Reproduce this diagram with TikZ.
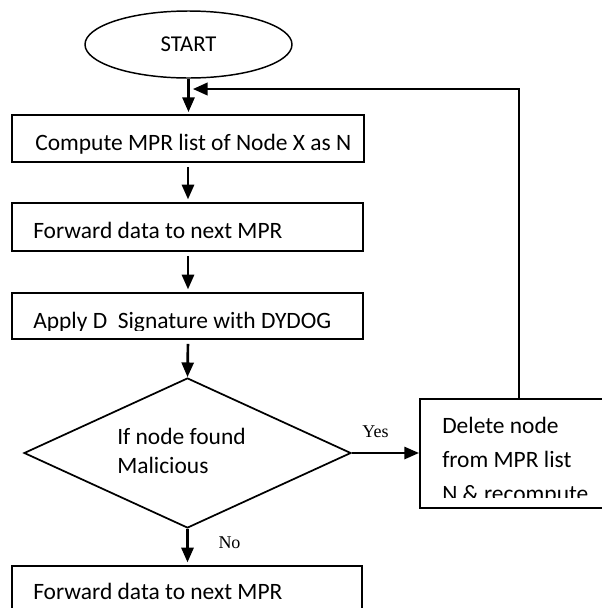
\documentclass[tikz,border=0pt]{standalone}
\usepackage{fontspec}
\setmainfont{Carlito}
\newfontfamily\serifl{Liberation Serif}
\usetikzlibrary{shapes.geometric,arrows.meta}
\begin{document}
\begin{tikzpicture}[x=0.75pt,y=-0.75pt,
  boxn/.style={draw, rectangle, inner sep=0pt, line width=1.4pt},
  lbl/.style={anchor=base west, inner sep=0pt, font=\fontsize{17.6}{21}\selectfont},
  yn/.style={anchor=base, inner sep=0pt, font=\serifl\fontsize{13.5}{16}\selectfont},
  arr/.style={-{Triangle[length=11pt,width=9pt]}, line width=2pt},
  looparr/.style={-{Triangle[length=11pt,width=9.5pt]}, line width=1.5pt}]
\clip (0,0) rectangle (602,608);
% shapes
\node[draw, ellipse, minimum width=155.25pt, minimum height=50.25pt, inner sep=0pt, line width=1.1pt,
      font=\fontsize{17}{20}\selectfont] (start) at (188.5,44.5) {START};
\node[boxn, minimum width=264pt, minimum height=35.25pt] (b1) at (188,138.5) {};
\node[boxn, minimum width=263.25pt, minimum height=36pt] (b2) at (187.5,227) {};
\node[boxn, minimum width=263.25pt, minimum height=34.5pt] (b3) at (187.5,316) {};
\node[draw, diamond, minimum width=245.25pt, minimum height=112.5pt, inner sep=0pt, line width=1.3pt] (dec) at (187.5,453) {};
\node[boxn, minimum width=144pt, minimum height=81.75pt] (del) at (516,453.5) {};
\node[boxn, minimum width=262.5pt, minimum height=40.5pt] (b4) at (187,593) {};
% texts
\node[lbl] (t1) at (35,150) {Compute MPR list of Node X as N};
\node[lbl] (t2) at (33,238) {Forward data to next MPR};
\begin{scope}
  \clip (0,295) rectangle (400,330.5);
  \node[lbl] (t3) at (33,328) {Apply D\ \ Signature with DYDOG};
\end{scope}
\node[lbl] (t4a) at (117,444) {If node found};
\node[lbl] (t4b) at (117,473) {Malicious};
\node[lbl] (t5a) at (442,433) {Delete node};
\node[lbl] (t5b) at (442,467) {from MPR list};
\begin{scope}
  \clip (425,475) rectangle (602,497.5);
  \node[lbl] (t5c) at (442,501) {N \& recompute};
\end{scope}
\node[lbl] (t6) at (33,599) {Forward data to next MPR};
\node[yn] (yes) at (375.5,437) {Yes};
\node[yn] (no) at (229.5,548) {No};
% connectors
\draw[arr, shorten >=1.5pt] (start.south) -- (start.south |- b1.north);
\draw[arr, shorten <=3pt, shorten >=2pt] (b1.south) -- (b1.south |- b2.north);
\draw[arr, shorten <=3pt, shorten >=2pt] (b1.south |- b2.south) -- (b1.south |- b3.north);
\draw[arr, shorten <=3pt] (b1.south |- b3.south) -- (dec.north);
\draw[arr, shorten >=2pt] (dec.south) -- (dec.south |- b4.north);
\draw[arr] (dec.east) -- (dec.east -| del.west);
\coordinate (lpx) at (519,89);
\coordinate (lp) at (193,89);
\draw[looparr] (lpx |- del.north) -- (lpx) -- (lp);
\end{tikzpicture}
\end{document}
